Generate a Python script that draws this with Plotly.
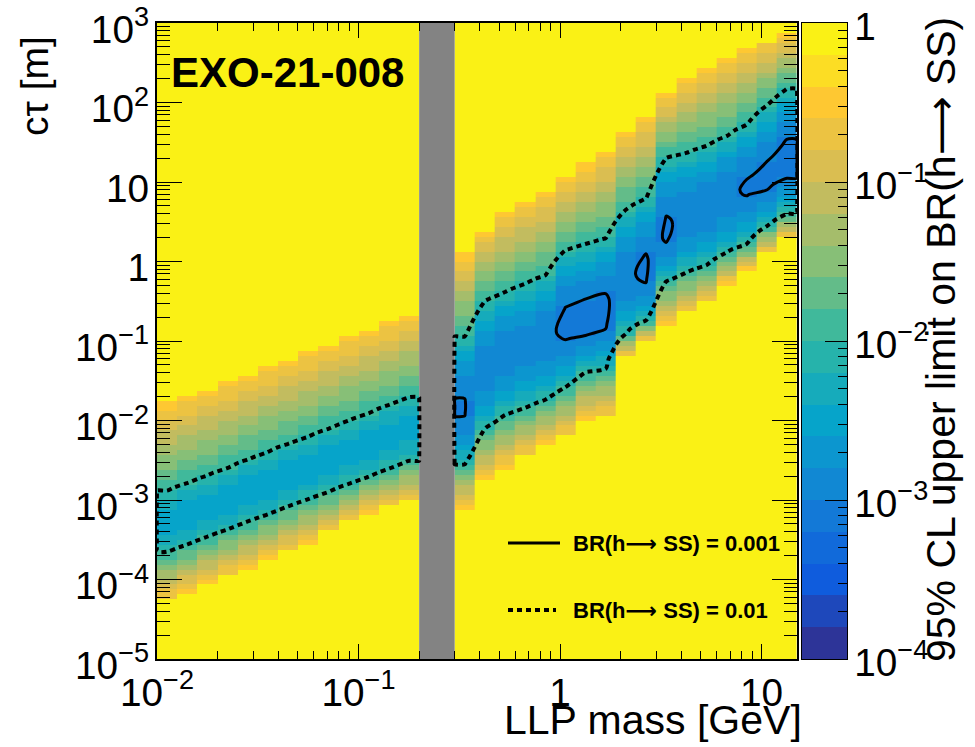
import numpy as np
import plotly.graph_objects as go

# ------------------------------------------------------------------
# Values
# ------------------------------------------------------------------
left_mass_range = [0.01, 0.2]      # GeV, region left of the excluded band
right_mass_range = [0.3, 15.0]     # GeV, region right of the excluded band
gap_mass = [0.2, 0.3]              # GeV, grey excluded band
ctau_range = [1e-5, 1e3]           # m
n_left_cols = 13
n_right_cols = 17
n_ctau_rows = 128

# per mass column: log10(ctau/m) of best sensitivity, minimum log10(BR limit),
# where the limit crosses BR = 0.01 (upper / lower side) and where it reaches ~1
left_center = [-3.27, -3.17, -3.08, -2.98, -2.88, -2.79, -2.69, -2.60, -2.50, -2.41, -2.31, -2.21, -2.11]
left_min_br = [-2.48, -2.50, -2.50, -2.51, -2.51, -2.52, -2.52, -2.52, -2.51, -2.51, -2.50, -2.49, -2.47]
left_br01_up = [-2.89, -2.79, -2.70, -2.60, -2.50, -2.40, -2.30, -2.21, -2.11, -2.01, -1.91, -1.81, -1.71]
left_br01_lo = [-3.65, -3.56, -3.46, -3.37, -3.27, -3.18, -3.08, -2.99, -2.90, -2.80, -2.71, -2.61, -2.51]
left_br1_up = [-1.78, -1.69, -1.60, -1.50, -1.41, -1.32, -1.23, -1.14, -1.05, -0.95, -0.86, -0.77, -0.67]
left_br1_lo = [-4.26, -4.16, -4.05, -3.95, -3.85, -3.75, -3.65, -3.55, -3.40, -3.26, -3.17, -3.08, -3.02]

right_center = [-1.85, -1.40, -1.15, -1.05, -0.95, -0.80, -0.75, -0.66, -0.20, -0.12, 0.37, 0.60, 0.70, 0.84, 0.92, 1.04, 1.25]
right_min_br = [-3.02, -2.92, -2.90, -2.90, -2.95, -3.06, -3.09, -3.08, -2.95, -3.06, -3.05, -2.95, -2.95, -2.97, -3.02, -3.06, -3.11]
right_br01_up = [-0.95, -0.50, -0.39, -0.28, -0.18, 0.14, 0.22, 0.29, 0.65, 0.79, 1.30, 1.36, 1.45, 1.57, 1.72, 1.96, 2.17]
right_br01_lo = [-2.55, -2.10, -1.93, -1.84, -1.74, -1.58, -1.39, -1.35, -0.91, -0.75, -0.25, -0.14, -0.05, 0.11, 0.22, 0.44, 0.60]
right_br1_up = [0.10, 0.40, 0.62, 0.75, 0.88, 1.05, 1.22, 1.40, 1.62, 1.80, 2.10, 2.30, 2.45, 2.58, 2.68, 2.78, 2.88]
right_br1_lo = [-3.10, -2.75, -2.60, -2.45, -2.30, -2.20, -2.00, -1.95, -1.20, -1.00, -0.80, -0.65, -0.50, -0.30, -0.10, 0.10, 0.30]

edge_log_br = -0.5        # log10 BR of the outermost (orange) cells before yellow
contour_levels = {"solid": -3.0, "dotted": -2.0}   # BR = 0.001, 0.01
z_range = [-4.0, 0.0]     # colour axis: 1e-4 .. 1
n_bands = 20

ARROW = '<span style="font-family:DejaVu Sans">\u27f6</span>'
title_text = "EXO-21-008"
legend_labels = ["BR(h" + ARROW + " SS) = 0.001", "BR(h" + ARROW + " SS) = 0.01"]
x_title = "LLP mass [GeV]"
y_title = "c\u03c4 [m]"
z_title = "95% CL upper limit on BR(h" + ARROW + " SS)"

# ------------------------------------------------------------------
# Build cell tables
# ------------------------------------------------------------------
log_y_edges = np.linspace(np.log10(ctau_range[0]), np.log10(ctau_range[1]), n_ctau_rows + 1)
log_y_cent = 0.5 * (log_y_edges[:-1] + log_y_edges[1:])


def column(y, c, zmin, hi, lo, yhi, ylo):
    above = y >= c
    t_up = (y - c) / (hi - c)
    t_lo = (c - y) / (c - lo)
    in_up = zmin + (-2 - zmin) * t_up ** 2
    in_lo = zmin + (-2 - zmin) * t_lo ** 2
    out_up = -2 + (edge_log_br + 2) * (y - hi) / (yhi - hi)
    out_lo = -2 + (edge_log_br + 2) * (lo - y) / (lo - ylo)
    z_up = np.where(y <= hi, in_up, np.where(y <= yhi, out_up, 0.0))
    z_lo = np.where(y >= lo, in_lo, np.where(y >= ylo, out_lo, 0.0))
    z = np.where(above, z_up, z_lo)
    return np.clip(z, z_range[0], z_range[1])


def table(center, zmin, hi, lo, yhi, ylo):
    cols = [column(log_y_cent, *p) for p in zip(center, zmin, hi, lo, yhi, ylo)]
    return np.array(cols).T   # rows = ctau, cols = mass


z_left = table(left_center, left_min_br, left_br01_up, left_br01_lo, left_br1_up, left_br1_lo)
z_right = table(right_center, right_min_br, right_br01_up, right_br01_lo, right_br1_up, right_br1_lo)

lx_left = np.linspace(np.log10(left_mass_range[0]), np.log10(left_mass_range[1]), n_left_cols + 1)
lx_right = np.linspace(np.log10(right_mass_range[0]), np.log10(right_mass_range[1]), n_right_cols + 1)

# contour grid (log10 coordinates), each region closed at its edges
eps = 0.006


def contour_block(lx_edges, z):
    cent = 0.5 * (lx_edges[:-1] + lx_edges[1:])
    xs = np.concatenate([[lx_edges[0] - eps, lx_edges[0]], cent, [lx_edges[-1], lx_edges[-1] + eps]])
    pad = np.zeros((z.shape[0], 1))
    zz = np.hstack([pad, z[:, :1], z, z[:, -1:], pad])
    return xs, zz


cx_l, cz_l = contour_block(lx_left, z_left)
cx_r, cz_r = contour_block(lx_right, z_right)
cont_x = np.concatenate([cx_l, cx_r])
cont_z = np.hstack([cz_l, cz_r])

# ------------------------------------------------------------------
# ROOT kBird palette in 20 discrete bands
# ------------------------------------------------------------------
bird_stops = [0.0, 0.125, 0.25, 0.375, 0.5, 0.625, 0.75, 0.875, 1.0]
bird_r = [0.2082, 0.0592, 0.0780, 0.0232, 0.1802, 0.5301, 0.8186, 0.9956, 0.9764]
bird_g = [0.1664, 0.3599, 0.5041, 0.6419, 0.7178, 0.7492, 0.7328, 0.7862, 0.9832]
bird_b = [0.5293, 0.8684, 0.8385, 0.7914, 0.6425, 0.4662, 0.3499, 0.1968, 0.0539]


def bird(f):
    return "rgb(%d,%d,%d)" % tuple(int(round(255 * np.interp(f, bird_stops, ch))) for ch in (bird_r, bird_g, bird_b))


colorscale = []
for i in range(n_bands):
    c = bird((i + 0.5) / n_bands)
    colorscale.append([i / n_bands, c])
    colorscale.append([(i + 1) / n_bands, c])

band_edges = np.linspace(z_range[0], z_range[1], n_bands + 1)
band_cent = 0.5 * (band_edges[:-1] + band_edges[1:])

# ------------------------------------------------------------------
# Figure
# ------------------------------------------------------------------
FONT = "Liberation Sans, Arial, Helvetica, sans-serif"
PL, PT, PW, PH = 157, 23, 690, 636     # paper area in px
W, H = 975, 747


def xp(X):
    return (X - PL) / PW


def yp(Y):
    return (PT + PH - Y) / PH


fig = go.Figure()

for lx, z in ((lx_left, z_left), (lx_right, z_right)):
    fig.add_trace(go.Heatmap(
        x=10 ** lx, y=10 ** log_y_edges, z=z, coloraxis="coloraxis",
        xaxis="x", yaxis="y", hoverinfo="skip", zsmooth=False))

fig.add_trace(go.Scatter(
    x=[gap_mass[0], gap_mass[1], gap_mass[1], gap_mass[0], gap_mass[0]],
    y=[ctau_range[0], ctau_range[0], ctau_range[1], ctau_range[1], ctau_range[0]],
    fill="toself", fillcolor="#838383", mode="lines", line=dict(width=0),
    hoverinfo="skip", showlegend=False, xaxis="x", yaxis="y"))

for key, dash, width in (("dotted", "5px,4px", 4), ("solid", "solid", 3)):
    lvl = contour_levels[key]
    fig.add_trace(go.Contour(
        x=cont_x, y=log_y_cent, z=cont_z, xaxis="x2", yaxis="y2",
        autocontour=False,
        contours=dict(start=lvl, end=lvl, size=1, coloring="none", showlabels=False),
        line=dict(color="black", width=width, dash=dash, smoothing=0.9),
        showscale=False, hoverinfo="skip"))

# colour bar strip
fig.add_trace(go.Heatmap(
    x=[0, 1], y=10 ** band_edges, z=[[v] for v in band_cent], coloraxis="coloraxis",
    xaxis="x3", yaxis="y3", hoverinfo="skip"))

x_dom = [0, xp(797)]
axis_common = dict(showline=True, linecolor="black", linewidth=1.5, showgrid=False,
                   zeroline=False, ticks="inside", tickcolor="black", tickwidth=1.2,
                   exponentformat="power", dtick=1, automargin=False,
                   ticklabeloverflow="allow",
                   tickfont=dict(family=FONT, size=31, color="black"))

fig.update_layout(
    width=W, height=H,
    margin=dict(l=PL, r=W - PL - PW, t=PT, b=H - PT - PH, autoexpand=False),
    paper_bgcolor="white", plot_bgcolor="white",
    showlegend=False,
    coloraxis=dict(cmin=z_range[0], cmax=z_range[1], colorscale=colorscale, showscale=False),
    xaxis=dict(type="log", range=[np.log10(left_mass_range[0]), np.log10(right_mass_range[1])],
               domain=x_dom, anchor="y", mirror="ticks", ticklen=15,
               minor=dict(ticks="inside", ticklen=8, dtick="D1", tickcolor="black", tickwidth=1.2),
               **axis_common),
    yaxis=dict(type="log", range=[np.log10(ctau_range[0]), np.log10(ctau_range[1])],
               domain=[0, 1], anchor="x", mirror="ticks", ticklen=25, ticklabelshift=6,
               minor=dict(ticks="inside", ticklen=13, dtick="D1", tickcolor="black", tickwidth=1.2),
               **axis_common),
    xaxis2=dict(overlaying="x", anchor="y2", range=[np.log10(left_mass_range[0]), np.log10(right_mass_range[1])],
                visible=False, domain=x_dom, automargin=False),
    yaxis2=dict(overlaying="y", anchor="x2", range=[np.log10(ctau_range[0]), np.log10(ctau_range[1])],
                visible=False, automargin=False),
    xaxis3=dict(domain=[xp(802), 1.0], range=[0, 1], anchor="y3", showline=True, mirror=True,
                linecolor="black", linewidth=1, showticklabels=False, ticks="", showgrid=False,
                zeroline=False, automargin=False),
    yaxis3=dict(type="log", range=list(z_range), anchor="x3", side="right", domain=[0, 1],
                mirror=True, ticklen=22, ticklabelshift=3,
                minor=dict(ticks="inside", ticklen=9, dtick="D1", tickcolor="black", tickwidth=1.2),
                **{**axis_common, "linewidth": 1}),
)

ann_font = dict(family=FONT, color="black")
fig.add_annotation(text="<b>%s</b>" % title_text, xref="paper", yref="paper", x=xp(169), y=yp(73),
                   xanchor="left", yanchor="middle", showarrow=False, font=dict(size=42, **ann_font))
fig.add_annotation(text=y_title, xref="paper", yref="paper", x=xp(34), y=yp(86), textangle=-90,
                   xanchor="center", yanchor="middle", showarrow=False, font=dict(size=39, **ann_font))
fig.add_annotation(text=x_title, xref="paper", yref="paper", x=xp(804), y=yp(720),
                   xanchor="right", yanchor="middle", showarrow=False, font=dict(size=41, **ann_font))
fig.add_annotation(text=z_title, xref="paper", yref="paper", x=xp(941), y=yp(340), textangle=-90,
                   xanchor="center", yanchor="middle", showarrow=False, font=dict(size=41, **ann_font))

# legend (drawn inside the frame as in the original)
for (label, dash, width, X0, X1, Y) in ((legend_labels[0], "solid", 3, 508, 560, 543),
                                         (legend_labels[1], "5px,4px", 4, 508, 556, 610)):
    fig.add_shape(type="line", xref="paper", yref="paper", x0=xp(X0), x1=xp(X1), y0=yp(Y), y1=yp(Y),
                  line=dict(color="black", width=width, dash=dash))
    fig.add_annotation(text="<b>%s</b>" % label, xref="paper", yref="paper", x=xp(571), y=yp(Y),
                       xanchor="left", yanchor="middle", showarrow=False, font=dict(size=22, **ann_font))

fig.write_html("out.html", config={"displayModeBar": False},
               post_script="document.body.style.margin='0px';")
